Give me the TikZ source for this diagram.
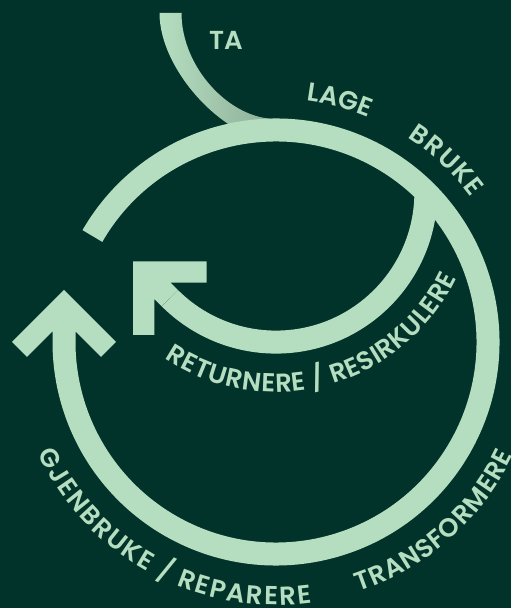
\documentclass[tikz,border=0pt]{standalone}
\usepackage{fontspec}
\setmainfont{Poppins}
\newfontfamily\lblfamily{Poppins SemiBold}
\usetikzlibrary{decorations.text}

\definecolor{bggreen}{HTML}{02332A}
\definecolor{mint}{HTML}{B5DEC0}
\definecolor{mintdark}{HTML}{8CAD97}
\newcommand\lblfont{\lblfamily\fontsize{26}{30}\selectfont}

\tikzset{
  ring/.style={draw=mint, line width=23pt},
  arclabel/.style={decorate, decoration={text along path, text={|\lblfont|#1}, text color=mint, text align=fit to path}},
  arrowhead/.pic={
    \fill[mint] (0,52) -- (52,0) -- (37,-15) -- (11.5,10.5) -- (11.5,0) -- (-11.5,0)
      -- (-11.5,10.5) -- (-37,-15) -- (-52,0) -- cycle;
  }
}

\begin{document}
\begin{tikzpicture}[x=1pt,y=1pt]
    \useasboundingbox (0,0) rectangle (511,608);
    \fill[bggreen] (0,0) rectangle (511,608);

    \coordinate (C) at (276,266);
    \coordinate (B1) at ([shift={(45:212)}]C);
    \coordinate (Ci) at ([shift={(-150,0)}]B1);

    % Incoming material, fading into the loop
    \shade[left color=mint, right color=mintdark] (159.5,595) .. controls (159.5,537) and (226,467) .. (276,467)
        -- (276,489) .. controls (229.4,489) and (181.5,540.6) .. (181.5,595) -- cycle;

    % Outer loop and inner loop
    \draw[ring] ([shift={(150:212)}]C) arc[start angle=150, end angle=-180, radius=212] coordinate (E1);
    \draw[ring] (B1) arc[start angle=0, end angle=-135, radius=150] coordinate (E2);

    % Arrow heads
    \pic at (E1) {arrowhead};
    \pic[rotate=45] at (E2) {arrowhead};

    % Labels
    \node[font=\lblfont, text=mint, inner sep=0] (ta) at (226,568) {TA};
    \path[arclabel={LAGE}] ([shift={(82.7:243)}]C) arc[start angle=82.7, end angle=67.6, radius=243];
    \path[arclabel={BRUKE}] ([shift={(57.2:243)}]C) arc[start angle=57.2, end angle=36.5, radius=243];
    \path[arclabel={GJENBRUKE / REPARERE}] ([shift={(205:263)}]C) arc[start angle=205, end angle=277.8, radius=263];
    \path[arclabel={TRANSFORMERE}] ([shift={(288.3:263)}]C) arc[start angle=288.3, end angle=334.4, radius=263];
    \path[arclabel={RETURNERE / RESIRKULERE}] ([shift={(236.3:200)}]Ci) arc[start angle=236.3, end angle=334.6, radius=200];
\end{tikzpicture}
\end{document}
